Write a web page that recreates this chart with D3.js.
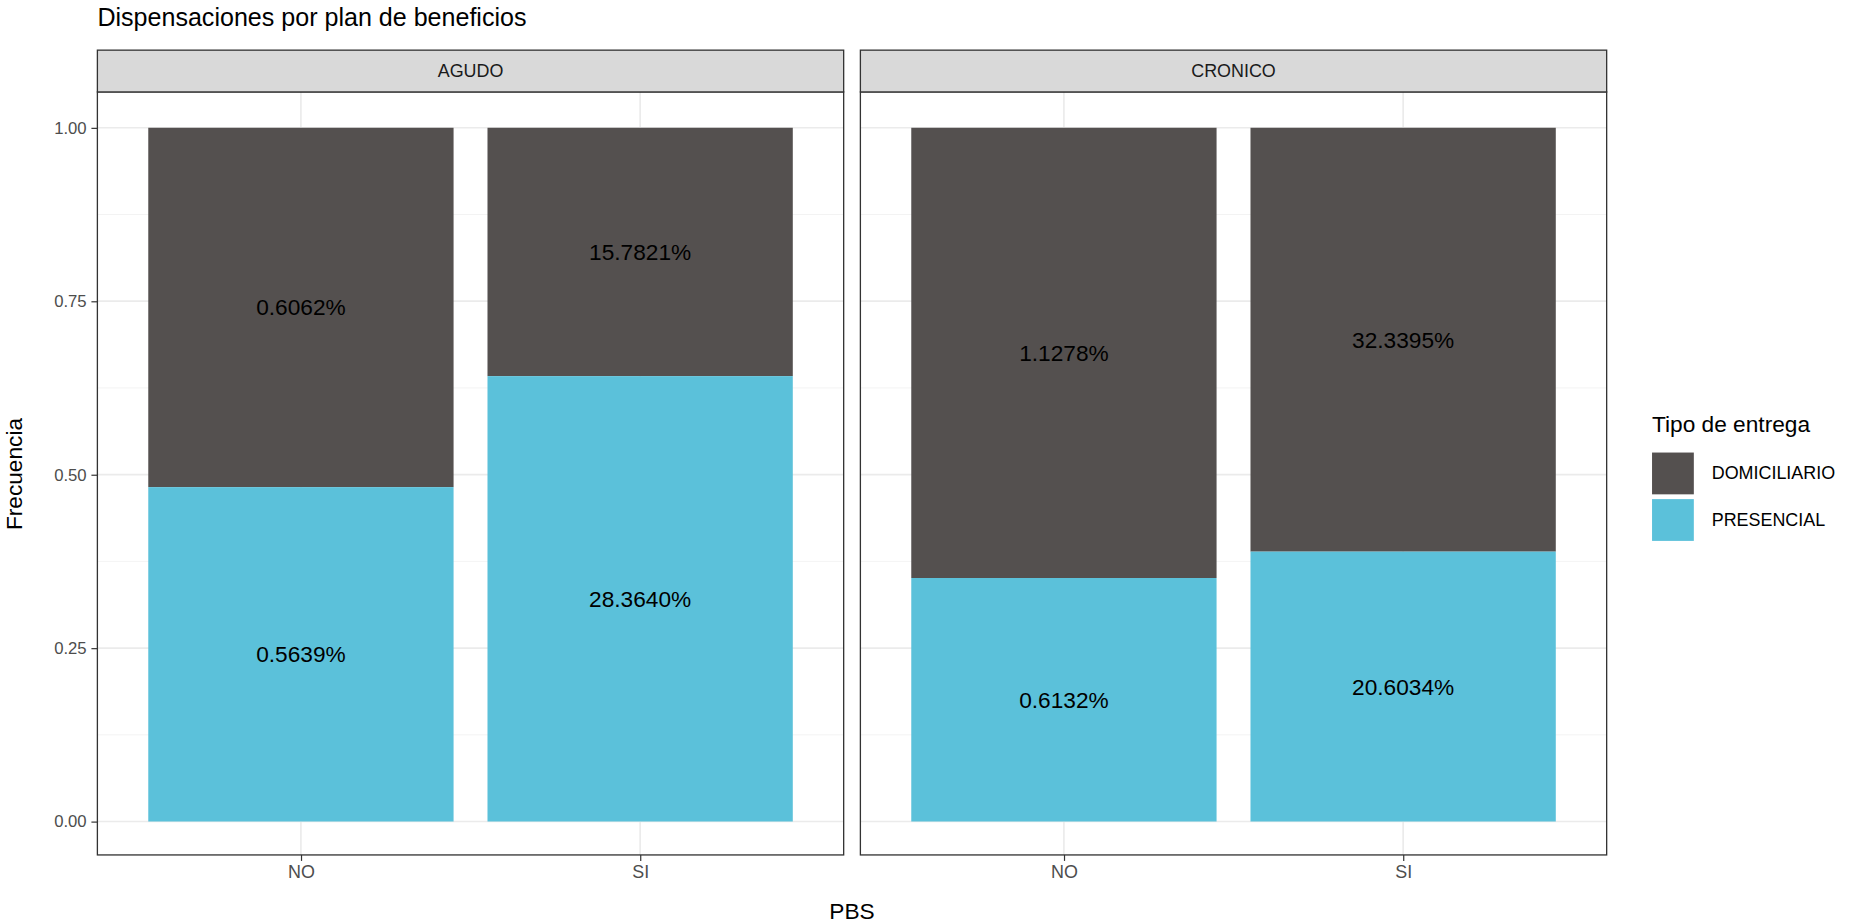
<!DOCTYPE html>
<html><head><meta charset="utf-8">
<script src="https://cdn.jsdelivr.net/npm/d3@7"></script>
<style>body{margin:0;background:#fff}text{font-family:"Liberation Sans",Arial,sans-serif}</style>
</head><body><svg id="chart"></svg>
<script>
// Datos
const panels = ["AGUDO", "CRONICO"];
const categories = ["NO", "SI"];
const types = ["PRESENCIAL", "DOMICILIARIO"];
// proporción presencial por panel/categoría
const presencialShare = {AGUDO: [0.482, 0.642], CRONICO: [0.351, 0.389]};
const presencialLabels = {AGUDO: ["0.5639%", "28.3640%"], CRONICO: ["0.6132%", "20.6034%"]};
const domiciliarioLabels = {AGUDO: ["0.6062%", "15.7821%"], CRONICO: ["1.1278%", "32.3395%"]};
const yTicks = [0, 0.25, 0.5, 0.75, 1];
const colors = {PRESENCIAL: "#5BC1DA", DOMICILIARIO: "#54504F"};

const W = 1568, H = 773;
const svg = d3.select("#chart").attr("width", 1876).attr("height", 923)
    .attr("viewBox", `0 0 ${W} ${H}`);

const panelX = [80, 719], panelW = 625;
const stripTop = 42, stripH = 35, plotTop = 77, plotBottom = 716;

const y = d3.scaleLinear().domain([0, 1]).range([688, 107]);
const x = d3.scaleBand().domain(categories).range([0, panelW]).paddingInner(0.1 / 1.1 * 1.1).paddingOuter(0);
// ggplot-style discrete scale: centers at 1,2 over limits 0.4–2.6
const xc = d3.scalePoint().domain(categories).range([panelW * 0.6 / 2.2, panelW * 1.6 / 2.2]);
const bw = panelW * 0.9 / 2.2;

svg.append("text").attr("x", 80).attr("y", 22).attr("font-size", 21).text("Dispensaciones por plan de beneficios");

panels.forEach((p, i) => {
    const g = svg.append("g").attr("transform", `translate(${panelX[i]},0)`);
    g.append("rect").attr("y", plotTop).attr("width", panelW).attr("height", plotBottom - plotTop).attr("fill", "#fff");
    // grid menor
    const minor = d3.range(0.125, 1, 0.25);
    g.selectAll(".mn").data(minor).enter().append("line")
        .attr("x1", 0).attr("x2", panelW).attr("y1", d => y(d)).attr("y2", d => y(d))
        .attr("stroke", "#f2f2f2").attr("stroke-width", 0.8);
    g.selectAll(".mj").data(yTicks).enter().append("line")
        .attr("x1", 0).attr("x2", panelW).attr("y1", d => y(d)).attr("y2", d => y(d))
        .attr("stroke", "#ebebeb").attr("stroke-width", 1.4);
    g.selectAll(".vx").data(categories).enter().append("line")
        .attr("x1", d => xc(d)).attr("x2", d => xc(d)).attr("y1", plotTop).attr("y2", plotBottom)
        .attr("stroke", "#ebebeb").attr("stroke-width", 1.4);

    categories.forEach((c, j) => {
        const s = presencialShare[p][j];
        g.append("rect").attr("x", xc(c) - bw / 2).attr("width", bw)
            .attr("y", y(1)).attr("height", y(s) - y(1)).attr("fill", colors.DOMICILIARIO);
        g.append("rect").attr("x", xc(c) - bw / 2).attr("width", bw)
            .attr("y", y(s)).attr("height", y(0) - y(s)).attr("fill", colors.PRESENCIAL);
        g.append("text").attr("x", xc(c)).attr("y", y(s / 2)).attr("dy", "0.35em")
            .attr("text-anchor", "middle").attr("font-size", 19).text(presencialLabels[p][j]);
        g.append("text").attr("x", xc(c)).attr("y", y((1 + s) / 2)).attr("dy", "0.35em")
            .attr("text-anchor", "middle").attr("font-size", 19).text(domiciliarioLabels[p][j]);
    });

    g.append("rect").attr("y", plotTop).attr("width", panelW).attr("height", plotBottom - plotTop)
        .attr("fill", "none").attr("stroke", "#333").attr("stroke-width", 1.1);
    g.append("rect").attr("y", stripTop).attr("width", panelW).attr("height", stripH)
        .attr("fill", "#d9d9d9").attr("stroke", "#333").attr("stroke-width", 1.1);
    g.append("text").attr("x", panelW / 2).attr("y", stripTop + stripH / 2).attr("dy", "0.35em")
        .attr("text-anchor", "middle").attr("font-size", 15).attr("fill", "#1a1a1a").text(p);

    const xa = g.append("g").attr("transform", `translate(0,${plotBottom})`)
        .call(d3.axisBottom(xc).tickSize(5).tickPadding(4));
    xa.select(".domain").remove();
    xa.selectAll("line").attr("stroke", "#333");
    xa.selectAll("text").attr("font-size", 15).attr("fill", "#4d4d4d");
});

const ya = svg.append("g").attr("transform", `translate(${panelX[0]},0)`)
    .call(d3.axisLeft(y).tickValues(yTicks).tickFormat(d3.format(".2f")).tickSize(5).tickPadding(4));
ya.select(".domain").remove();
ya.selectAll("line").attr("stroke", "#333");
ya.selectAll("text").attr("font-size", 14).attr("fill", "#4d4d4d");

svg.append("text").attr("transform", "translate(17,397) rotate(-90)").attr("text-anchor", "middle")
    .attr("font-size", 19).text("Frecuencia");
svg.append("text").attr("x", 712).attr("y", 770).attr("text-anchor", "middle")
    .attr("font-size", 19).text("PBS");

// Leyenda
const lg = svg.append("g").attr("transform", "translate(1382,0)");
lg.append("text").attr("x", 0).attr("y", 362).attr("font-size", 19).text("Tipo de entrega");
["DOMICILIARIO", "PRESENCIAL"].forEach((t, i) => {
    lg.append("rect").attr("x", 0).attr("y", 379 + i * 39).attr("width", 35).attr("height", 35).attr("fill", colors[t]);
    lg.append("text").attr("x", 22 + 28).attr("y", 396 + i * 39).attr("dy", "0.35em")
        .attr("font-size", 15).text(t);
});
</script></body></html>
